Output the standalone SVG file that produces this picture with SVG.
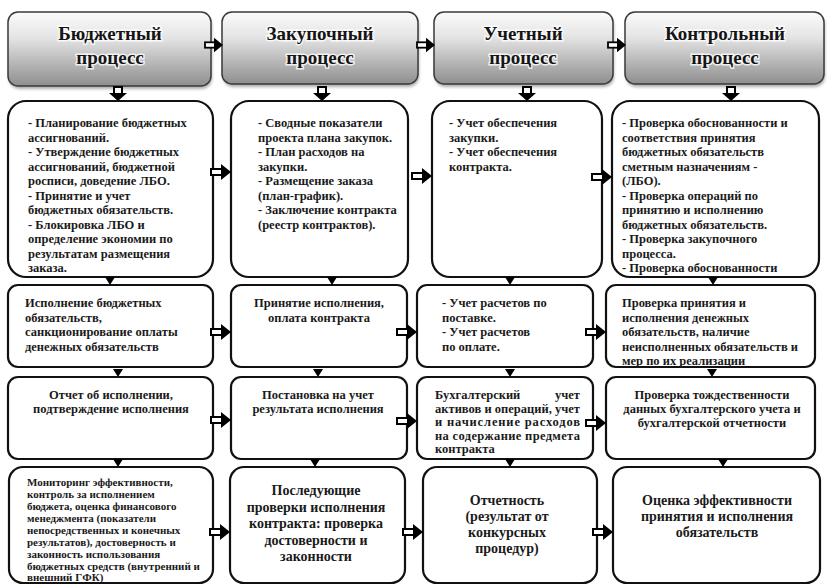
<svg xmlns="http://www.w3.org/2000/svg" xmlns:xlink="http://www.w3.org/1999/xlink" width="827" height="585" viewBox="0 0 827 585">
<style>
.hd{stroke:#3a3a3a;stroke-width:1.5;fill:url(#hg)}
.hs{fill:#6a6a6a;opacity:.55;filter:url(#bl)}
.bx{fill:#fff;stroke:#111;stroke-width:2.2}
.ht{font-family:"Liberation Serif",serif;font-weight:bold;font-size:19px;fill:#151515;text-anchor:middle;stroke:#fff;stroke-width:3;stroke-opacity:.8;paint-order:stroke}
.t{font-family:"Liberation Serif",serif;font-weight:bold;font-size:12.5px;fill:#1a1a1a}
.c{text-anchor:middle}
.s{font-size:11px}
.l{font-size:14px}
</style>
<defs>
<linearGradient id="hg" x1="0" y1="0" x2="0" y2="1">
<stop offset="0" stop-color="#fbfbfb"/>
<stop offset="0.35" stop-color="#e4e4e4"/>
<stop offset="1" stop-color="#8e8e8e"/>
</linearGradient>
<filter id="bl" x="-10%" y="-10%" width="120%" height="130%"><feGaussianBlur stdDeviation="1.5"/></filter>
<g id="ha"><rect x="-20" y="-3" width="12" height="6" fill="#fff" stroke="#000" stroke-width="2"/><polygon points="-10,-8 0,0 -10,8" fill="#000"/></g>
<g id="da"><rect x="-4" y="-14" width="8" height="7" fill="#fff" stroke="#000" stroke-width="2"/><polygon points="-9,-8 9,-8 0,0" fill="#000"/></g>
<polygon id="tri" points="-5,-8 5,-8 0,0" fill="#000"/>
</defs>

<g id="h1"><rect class="hs" x="9" y="15" width="203" height="74" rx="10"/><rect class="hd" x="8" y="12" width="203" height="74" rx="10"/><text class="ht" x="110" y="40">Бюджетный</text><text class="ht" x="110" y="64">процесс</text></g>
<g id="h2"><rect class="hs" x="223" y="15" width="196" height="72" rx="10"/><rect class="hd" x="222" y="12" width="196" height="72" rx="10"/><text class="ht" x="320" y="40">Закупочный</text><text class="ht" x="320" y="64">процесс</text></g>
<g id="h3"><rect class="hs" x="435" y="15" width="179" height="72" rx="10"/><rect class="hd" x="434" y="12" width="179" height="72" rx="10"/><text class="ht" x="523" y="40">Учетный</text><text class="ht" x="523" y="64">процесс</text></g>
<g id="h4"><rect class="hs" x="626" y="15" width="199" height="72" rx="10"/><rect class="hd" x="625" y="12" width="199" height="72" rx="10"/><text class="ht" x="725" y="40">Контрольный</text><text class="ht" x="725" y="64">процесс</text></g>

<g id="r1b1"><rect class="bx" x="8" y="101" width="205" height="176" rx="18"/>
<text class="t" x="28" y="127">- Планирование бюджетных</text>
<text class="t" x="28" y="141.5">ассигнований.</text>
<text class="t" x="28" y="156">- Утверждение бюджетных</text>
<text class="t" x="28" y="170.5">ассигнований, бюджетной</text>
<text class="t" x="28" y="185">росписи, доведение ЛБО.</text>
<text class="t" x="28" y="199.5">- Принятие и учет</text>
<text class="t" x="28" y="214">бюджетных обязательств.</text>
<text class="t" x="28" y="228.5">- Блокировка ЛБО и</text>
<text class="t" x="28" y="243">определение экономии по</text>
<text class="t" x="28" y="257.5">результатам размещения</text>
<text class="t" x="28" y="272">заказа.</text></g>

<g id="r1b2"><rect class="bx" x="231" y="101" width="177" height="176" rx="18"/>
<text class="t" x="258" y="127">- Сводные показатели</text>
<text class="t" x="258" y="141.5">проекта плана закупок.</text>
<text class="t" x="258" y="156">- План расходов на</text>
<text class="t" x="258" y="170.5">закупки.</text>
<text class="t" x="258" y="185">- Размещение заказа</text>
<text class="t" x="258" y="199.5">(план-график).</text>
<text class="t" x="258" y="214">- Заключение контракта</text>
<text class="t" x="258" y="228.5">(реестр контрактов).</text></g>

<g id="r1b3"><rect class="bx" x="432" y="101" width="170" height="176" rx="18"/>
<text class="t" x="449" y="127">- Учет обеспечения</text>
<text class="t" x="449" y="141.5">закупки.</text>
<text class="t" x="449" y="156">- Учет обеспечения</text>
<text class="t" x="449" y="170.5">контракта.</text></g>

<g id="r1b4"><rect class="bx" x="612" y="101" width="207" height="176" rx="18"/>
<text class="t" x="622" y="127">- Проверка обоснованности и</text>
<text class="t" x="622" y="141.5">соответствия принятия</text>
<text class="t" x="622" y="156">бюджетных обязательств</text>
<text class="t" x="622" y="170.5">сметным назначениям -</text>
<text class="t" x="622" y="185">(ЛБО).</text>
<text class="t" x="622" y="199.5">- Проверка операций по</text>
<text class="t" x="622" y="214">принятию и исполнению</text>
<text class="t" x="622" y="228.5">бюджетных обязательств.</text>
<text class="t" x="622" y="243">- Проверка закупочного</text>
<text class="t" x="622" y="257.5">процесса.</text>
<text class="t" x="622" y="272">- Проверка обоснованности</text></g>

<g id="r2b1"><rect class="bx" x="8" y="285" width="205" height="82" rx="10"/>
<text class="t" x="25" y="307">Исполнение бюджетных</text>
<text class="t" x="25" y="321.5">обязательств,</text>
<text class="t" x="25" y="336">санкционирование оплаты</text>
<text class="t" x="25" y="350.5">денежных обязательств</text></g>

<g id="r2b2"><rect class="bx" x="231" y="285" width="176" height="82" rx="10"/>
<text class="t c" x="319" y="307">Принятие исполнения,</text>
<text class="t c" x="319" y="321.5">оплата контракта</text></g>

<g id="r2b3"><rect class="bx" x="417" y="285" width="176" height="82" rx="10"/>
<text class="t" x="442" y="307">- Учет расчетов по</text>
<text class="t" x="442" y="321.5">поставке.</text>
<text class="t" x="442" y="336">- Учет расчетов</text>
<text class="t" x="442" y="350.5">по оплате.</text></g>

<g id="r2b4"><rect class="bx" x="606" y="285" width="209" height="82" rx="10"/>
<text class="t" x="622" y="307">Проверка принятия и</text>
<text class="t" x="622" y="321.5">исполнения денежных</text>
<text class="t" x="622" y="336">обязательств, наличие</text>
<text class="t" x="622" y="350.5">неисполненных обязательств и</text>
<text class="t" x="622" y="365">мер по их реализации</text></g>

<g id="r3b1"><rect class="bx" x="8" y="377" width="205" height="82" rx="10"/>
<text class="t c" x="111" y="399">Отчет об исполнении,</text>
<text class="t c" x="111" y="413">подтверждение исполнения</text></g>

<g id="r3b2"><rect class="bx" x="231" y="377" width="176" height="82" rx="10"/>
<text class="t c" x="318" y="399">Постановка на учет</text>
<text class="t c" x="318" y="413">результата исполнения</text></g>

<g id="r3b3"><rect class="bx" x="417" y="377" width="176" height="82" rx="10"/>
<text class="t" y="399"><tspan x="435">Бухгалтерский</tspan><tspan x="580" text-anchor="end">учет</tspan></text>
<text class="t" x="435" y="412.5" textLength="145" lengthAdjust="spacing">активов и операций, учет</text>
<text class="t" x="435" y="426" textLength="145" lengthAdjust="spacing">и начисление расходов</text>
<text class="t" x="435" y="439.5" textLength="145" lengthAdjust="spacing">на содержание предмета</text>
<text class="t" x="435" y="453">контракта</text></g>

<g id="r3b4"><rect class="bx" x="606" y="377" width="209" height="82" rx="10"/>
<text class="t c" x="712" y="399">Проверка тождественности</text>
<text class="t c" x="712" y="413">данных бухгалтерского учета и</text>
<text class="t c" x="712" y="427">бухгалтерской отчетности</text></g>

<g id="r4b1"><rect class="bx" x="9" y="467" width="204" height="116" rx="14"/>
<text class="t s" x="27" y="486">Мониторинг эффективности,</text>
<text class="t s" x="27" y="498">контроль за исполнением</text>
<text class="t s" x="27" y="510">бюджета, оценка финансового</text>
<text class="t s" x="27" y="522">менеджмента (показатели</text>
<text class="t s" x="27" y="534">непосредственных и конечных</text>
<text class="t s" x="27" y="546">результатов), достоверность и</text>
<text class="t s" x="27" y="558">законность использования</text>
<text class="t s" x="27" y="570">бюджетных средств (внутренний и</text>
<text class="t s" x="27" y="581">внешний ГФК)</text></g>

<g id="r4b2"><rect class="bx" x="230" y="467" width="175" height="116" rx="14"/>
<text class="t l c" x="316" y="495">Последующие</text>
<text class="t l c" x="316" y="511.5">проверки исполнения</text>
<text class="t l c" x="316" y="528">контракта: проверка</text>
<text class="t l c" x="316" y="544.5">достоверности и</text>
<text class="t l c" x="316" y="561">законности</text></g>

<g id="r4b3"><rect class="bx" x="423" y="467" width="174" height="116" rx="14"/>
<text class="t l c" x="507" y="505">Отчетность</text>
<text class="t l c" x="507" y="521">(результат от</text>
<text class="t l c" x="507" y="537">конкурсных</text>
<text class="t l c" x="507" y="553">процедур)</text></g>

<g id="r4b4"><rect class="bx" x="613" y="467" width="207" height="116" rx="14"/>
<text class="t l c" x="717" y="505">Оценка эффективности</text>
<text class="t l c" x="717" y="521">принятия и исполнения</text>
<text class="t l c" x="717" y="537">обязательств</text></g>

<g id="connectors">
<use href="#ha" transform="translate(223,45) scale(0.9)"/>
<use href="#ha" transform="translate(435,45) scale(0.9)"/>
<use href="#ha" transform="translate(626,45) scale(0.9)"/>
<use href="#da" x="118" y="101"/>
<use href="#da" x="322" y="101"/>
<use href="#da" x="527" y="101"/>
<use href="#da" x="731" y="101"/>
<use href="#ha" x="231" y="172"/>
<use href="#ha" x="432" y="176"/>
<use href="#ha" x="612" y="177"/>
<use href="#ha" x="231" y="332"/>
<use href="#ha" x="417" y="332"/>
<use href="#ha" x="606" y="332"/>
<use href="#ha" x="231" y="420"/>
<use href="#ha" x="417" y="421"/>
<use href="#ha" x="606" y="423"/>
<use href="#ha" x="230" y="532"/>
<use href="#ha" x="423" y="532"/>
<use href="#ha" x="613" y="532"/>
<use href="#tri" x="110" y="285"/>
<use href="#tri" x="332" y="285"/>
<use href="#tri" x="510" y="285"/>
<use href="#tri" x="713" y="285"/>
<use href="#tri" x="118" y="377"/>
<use href="#tri" x="318" y="377"/>
<use href="#tri" x="510" y="377"/>
<use href="#tri" x="712" y="377"/>
<use href="#tri" x="118" y="467"/>
<use href="#tri" x="315" y="467"/>
<use href="#tri" x="510" y="467"/>
<use href="#tri" x="723" y="467"/>
</g>
</svg>
